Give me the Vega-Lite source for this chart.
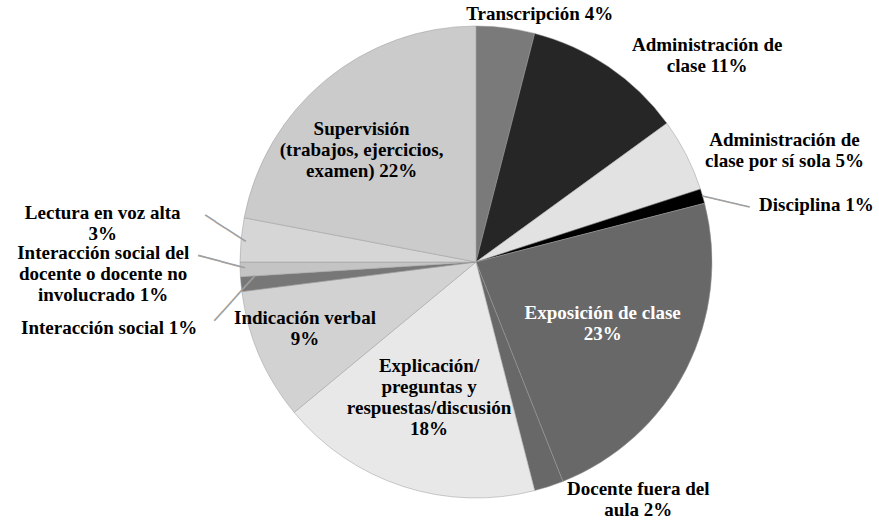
{
  "$schema": "https://vega.github.io/schema/vega-lite/v6.json",
  "width": 806,
  "height": 516,
  "padding": {"left": 73, "top": 4, "right": 0, "bottom": 0},
  "autosize": {"type": "none"},
  "background": "white",
  "view": {"stroke": null},
  "data": {
    "values": [
      {"idx": 1, "cat": "Transcripción", "value": 4, "label": ["Transcripción 4%"]},
      {"idx": 2, "cat": "Administración de clase", "value": 11, "label": ["Administración de", "clase 11%"]},
      {"idx": 3, "cat": "Administración de clase por sí sola", "value": 5, "label": ["Administración de", "clase por sí sola 5%"]},
      {"idx": 4, "cat": "Disciplina", "value": 1, "label": ["Disciplina 1%"]},
      {"idx": 5, "cat": "Exposición de clase", "value": 23, "label": ["Exposición de clase", "23%"]},
      {"idx": 6, "cat": "Docente fuera del aula", "value": 2, "label": ["Docente fuera del", "aula 2%"]},
      {"idx": 7, "cat": "Explicación/preguntas y respuestas/discusión", "value": 18, "label": ["Explicación/", "preguntas y", "respuestas/discusión", "18%"]},
      {"idx": 8, "cat": "Indicación verbal", "value": 9, "label": ["Indicación verbal", "9%"]},
      {"idx": 9, "cat": "Interacción social", "value": 1, "label": ["Interacción social 1%"]},
      {"idx": 10, "cat": "Interacción social del docente o docente no involucrado", "value": 1, "label": ["Interacción social del", "docente o docente no", "involucrado 1%"]},
      {"idx": 11, "cat": "Lectura en voz alta", "value": 3, "label": ["Lectura en voz alta", "3%"]},
      {"idx": 12, "cat": "Supervisión (trabajos, ejercicios, examen)", "value": 22, "label": ["Supervisión", "(trabajos, ejercicios,", "examen) 22%"]}
    ]
  },
  "encoding": {
    "theta": {"field": "value", "type": "quantitative", "stack": true},
    "order": {"field": "idx", "type": "quantitative", "sort": "ascending"}
  },
  "layer": [
    {
      "mark": {"type": "arc", "radius": 236, "stroke": "#9a9a9a", "strokeWidth": 0.5},
      "encoding": {
        "color": {
          "field": "cat",
          "type": "nominal",
          "legend": null,
          "scale": {
            "domain": ["Transcripción", "Administración de clase", "Administración de clase por sí sola", "Disciplina", "Exposición de clase", "Docente fuera del aula", "Explicación/preguntas y respuestas/discusión", "Indicación verbal", "Interacción social", "Interacción social del docente o docente no involucrado", "Lectura en voz alta", "Supervisión (trabajos, ejercicios, examen)"],
            "range": ["#7a7a7a", "#262626", "#e2e2e2", "#000000", "#686868", "#686868", "#e8e8e8", "#d2d2d2", "#777777", "#c4c4c4", "#d6d6d6", "#cbcbcb"]
          }
        }
      }
    },
    {"mark": {"type": "text", "radius": 259, "dx": 4, "dy": 12, "angle": 13, "font": "DejaVu Sans Mono", "fontWeight": "normal", "fontSize": 20, "color": "#a0a0a0"},
     "encoding": {"text": {"condition": {"test": "datum.idx === 4", "value": "────"}, "value": ""}}},
    {"mark": {"type": "text", "radius": 259, "dx": 1, "dy": -11, "angle": 33, "font": "DejaVu Sans Mono", "fontWeight": "normal", "fontSize": 20, "color": "#a0a0a0"},
     "encoding": {"text": {"condition": {"test": "datum.idx === 11", "value": "────"}, "value": ""}}},
    {"mark": {"type": "text", "radius": 257, "dx": 0, "dy": -8, "angle": 15, "font": "DejaVu Sans Mono", "fontWeight": "normal", "fontSize": 20, "color": "#a0a0a0"},
     "encoding": {"text": {"condition": {"test": "datum.idx === 10", "value": "────"}, "value": ""}}},
    {"mark": {"type": "text", "radius": 259, "dx": 2, "dy": 21, "angle": -48, "font": "DejaVu Sans Mono", "fontWeight": "normal", "fontSize": 20, "color": "#a0a0a0"},
     "encoding": {"text": {"condition": {"test": "datum.idx === 9", "value": "─────"}, "value": ""}}},
    {"mark": {"type": "text", "radius": 253, "dx": 32, "dy": 3},
     "encoding": {"text": {"condition": {"test": "datum.idx === 1", "field": "label", "type": "nominal"}, "value": ""}}},
    {"mark": {"type": "text", "radius": 301, "dx": 62, "dy": 32},
     "encoding": {"text": {"condition": {"test": "datum.idx === 2", "field": "label", "type": "nominal"}, "value": ""}}},
    {"mark": {"type": "text", "radius": 326, "dx": 18, "dy": 26},
     "encoding": {"text": {"condition": {"test": "datum.idx === 3", "field": "label", "type": "nominal"}, "value": ""}}},
    {"mark": {"type": "text", "radius": 343, "dx": 11, "dy": 39},
     "encoding": {"text": {"condition": {"test": "datum.idx === 4", "field": "label", "type": "nominal"}, "value": ""}}},
    {"mark": {"type": "text", "radius": 141, "dx": 1, "dy": -13, "color": "white"},
     "encoding": {"text": {"condition": {"test": "datum.idx === 5", "field": "label", "type": "nominal"}, "value": ""}}},
    {"mark": {"type": "text", "radius": 279, "dx": 76, "dy": -38},
     "encoding": {"text": {"condition": {"test": "datum.idx === 6", "field": "label", "type": "nominal"}, "value": ""}}},
    {"mark": {"type": "text", "radius": 139, "dx": -4, "dy": -28},
     "encoding": {"text": {"condition": {"test": "datum.idx === 7", "field": "label", "type": "nominal"}, "value": ""}}},
    {"mark": {"type": "text", "radius": 182, "dx": -4, "dy": -16},
     "encoding": {"text": {"condition": {"test": "datum.idx === 8", "field": "label", "type": "nominal"}, "value": ""}}},
    {"mark": {"type": "text", "radius": 284, "dx": 4, "dy": 39, "align": "right"},
     "encoding": {"text": {"condition": {"test": "datum.idx === 9", "field": "label", "type": "nominal"}, "value": ""}}},
    {"mark": {"type": "text", "radius": 372, "dx": -1, "dy": -21},
     "encoding": {"text": {"condition": {"test": "datum.idx === 10", "field": "label", "type": "nominal"}, "value": ""}}},
    {"mark": {"type": "text", "radius": 375, "dx": 0, "dy": -14},
     "encoding": {"text": {"condition": {"test": "datum.idx === 11", "field": "label", "type": "nominal"}, "value": ""}}},
    {"mark": {"type": "text", "radius": 159, "dx": -13, "dy": -10},
     "encoding": {"text": {"condition": {"test": "datum.idx === 12", "field": "label", "type": "nominal"}, "value": ""}}}
  ],
  "config": {
    "text": {"font": "Liberation Serif", "fontWeight": "bold", "fontSize": 19, "lineHeight": 21, "color": "black", "align": "center", "baseline": "middle"}
  }
}
